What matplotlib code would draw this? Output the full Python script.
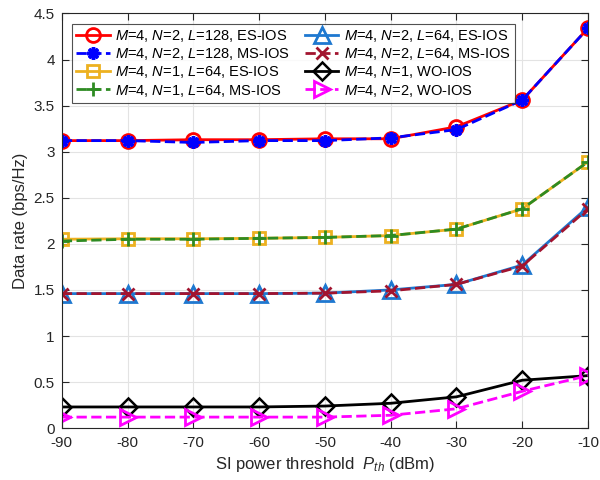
import numpy as np
import matplotlib.pyplot as plt

# SI power threshold (dBm)
p_th = [-90, -80, -70, -60, -50, -40, -30, -20, -10]

# data rate (bps/Hz)
n2_l128_es = [3.12, 3.12, 3.13, 3.13, 3.14, 3.14, 3.27, 3.56, 4.34]
n2_l128_ms = [3.12, 3.12, 3.10, 3.12, 3.12, 3.15, 3.24, 3.56, 4.34]
n1_l64_es = [2.05, 2.055, 2.055, 2.06, 2.07, 2.09, 2.16, 2.38, 2.89]
n1_l64_ms = [2.03, 2.05, 2.05, 2.06, 2.07, 2.09, 2.16, 2.38, 2.89]
n2_l64_es = [1.46, 1.46, 1.46, 1.46, 1.465, 1.50, 1.56, 1.77, 2.40]
n2_l64_ms = [1.46, 1.46, 1.46, 1.46, 1.465, 1.49, 1.56, 1.76, 2.38]
n1_wo = [0.23, 0.23, 0.23, 0.23, 0.24, 0.27, 0.34, 0.52, 0.57]
n2_wo = [0.12, 0.12, 0.12, 0.12, 0.12, 0.14, 0.21, 0.40, 0.57]

plt.rcParams['font.family'] = ['Liberation Sans', 'DejaVu Sans']
plt.rcParams['mathtext.fontset'] = 'custom'
plt.rcParams['mathtext.it'] = 'Liberation Sans:italic'
plt.rcParams['mathtext.rm'] = 'Liberation Sans'

fig = plt.figure(figsize=(6, 4.8), dpi=100)
ax = fig.add_axes([0.103, 0.108, 0.877, 0.864])

lw = 2
ms = 10
ax.plot(p_th, n2_l128_es, '-o', color='red', lw=lw, ms=ms, mfc='none', mew=2,
        label='$M$=4, $N$=2, $L$=128, ES-IOS')
ax.plot(p_th, n2_l128_ms, '--', marker=(8, 2, 0), color='blue', lw=lw, ms=ms - 1, mew=2.5,
        label='$M$=4, $N$=2, $L$=128, MS-IOS')
ax.plot(p_th, n1_l64_es, '-s', color='#EDB120', lw=lw, ms=ms - 1, mfc='none', mew=2,
        label='$M$=4, $N$=1, $L$=64, ES-IOS')
ax.plot(p_th, n1_l64_ms, '--+', color='#2E8B22', lw=lw, ms=ms, mew=2,
        label='$M$=4, $N$=1, $L$=64, MS-IOS')
ax.plot(p_th, n2_l64_es, '-^', color='#1E78D0', lw=lw, ms=ms + 1, mfc='none', mew=2,
        label='$M$=4, $N$=2, $L$=64, ES-IOS')
ax.plot(p_th, n2_l64_ms, '--x', color='#A2142F', lw=lw, ms=ms - 2, mew=2,
        label='$M$=4, $N$=2, $L$=64, MS-IOS')
ax.plot(p_th, n1_wo, '-D', color='black', lw=lw, ms=ms - 1, mfc='none', mew=1.8,
        label='$M$=4, $N$=1, WO-IOS')
ax.plot(p_th, n2_wo, '-->', color='magenta', lw=lw, ms=ms + 1, mfc='none', mew=2,
        label='$M$=4, $N$=2, WO-IOS')

ax.set_xlim(-90, -10)
ax.set_ylim(0, 4.5)
ax.set_xticks(p_th)
ax.set_xticklabels([str(v) for v in p_th])
ax.set_yticks(np.arange(0, 4.6, 0.5))
ax.set_yticklabels(['0', '0.5', '1', '1.5', '2', '2.5', '3', '3.5', '4', '4.5'])
ax.tick_params(direction='in', top=True, right=True, labelsize=11, length=5,
               colors='#262626')
ax.tick_params(axis='x', pad=6)
ax.tick_params(axis='y', pad=5)
ax.grid(True, color='#E3E3E3', lw=0.8)
ax.set_axisbelow(True)
for s in ax.spines.values():
    s.set_color('#262626')
    s.set_linewidth(0.8)

ax.set_xlabel('SI power threshold  $P_{th}$ (dBm)', fontsize=12, color='#262626',
              labelpad=3)
ax.set_ylabel('Data rate (bps/Hz)', fontsize=12, color='#262626')

leg = ax.legend(ncol=2, loc='upper left', fontsize=10.5, handlelength=2.3,
                columnspacing=1.0, handletextpad=0.4, labelspacing=0.15,
                borderpad=0.3, fancybox=False, edgecolor='#262626',
                bbox_to_anchor=(0.005, 0.993))
leg.get_frame().set_linewidth(0.8)

fig.savefig('out.png', dpi=100)
